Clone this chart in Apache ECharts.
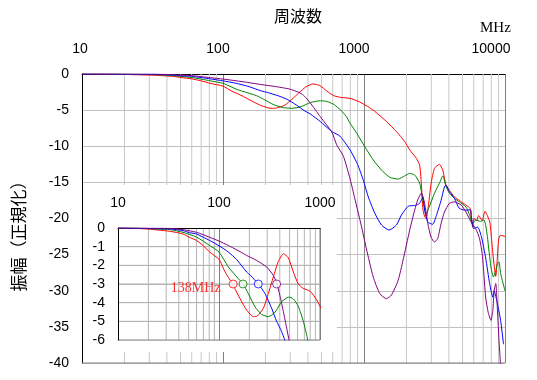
<!DOCTYPE html>
<html><head><meta charset="utf-8">
<script src="https://cdn.jsdelivr.net/npm/echarts@6/dist/echarts.min.js"></script>
<style>html,body{margin:0;padding:0;background:#fff}#c{width:537px;height:380px}</style>
</head><body><div id="c"></div>
<script>
// ---- data ----
const xTickLabels = ['10', '100', '1000', '10000'];
const insetXTickLabels = ['10', '100', '1000'];
const minorMain = [20,30,40,50,60,70,80,90,200,300,400,500,600,700,800,900,2000,3000,4000,5000,6000,7000,8000,9000];
const minorInset = [20,30,40,50,60,70,80,90,200,300,400,500,600,700,800,900];
const insetYGrid = [-1, -2, -3, -4, -5];
const markerFreqs = [138, 173, 245, 372];
const markerLevel = -3;
const seriesColors = ['#ff0000', '#008000', '#0000ff', '#800080'];

const red = [[10,0],[15,-0.02],[20,-0.06],[25,-0.11],[33,-0.18],[44,-0.32],[51,-0.5],[60,-0.67],[70,-0.95],[81,-1.29],[100,-1.68],[115,-2.36],[134,-2.94],[161,-3.77],[188,-4.4],[219,-4.75],[239,-4.72],[275,-4.3],[308,-3.51],[345,-2.62],[387,-1.79],[434,-1.38],[486,-1.6],[545,-2.36],[610,-3.0],[684,-3.24],[796,-3.38],[927,-3.85],[1064,-4.5],[1195,-5.19],[1444,-6.58],[1699,-7.97],[1944,-9.36],[2110,-10.5],[2350,-11.67],[2480,-12.6],[2550,-15.1],[2620,-18.8],[2690,-19.7],[2760,-20.0],[2835,-18.85],[2995,-15.1],[3162,-13.05],[3430,-12.5],[3620,-13.3],[3820,-15.4],[4034,-16.1],[4375,-17.0],[4744,-17.5],[5287,-18.15],[5650,-18.6],[5780,-20.2],[5900,-21.2],[6000,-20.0],[6280,-20.3],[6500,-19.6],[6900,-20.3],[7200,-19.0],[7500,-19.6],[7800,-20.5],[8000,-22.5],[8200,-24.8],[8400,-26.7],[8600,-28.0],[8800,-25.8],[9000,-23.0],[9300,-22.3],[10000,-22.5]];

const green = [[10,0],[15,-0.01],[20,-0.03],[25,-0.06],[33,-0.09],[44,-0.23],[60,-0.49],[81,-0.94],[100,-1.29],[124,-2.09],[150,-2.62],[173,-3.0],[195,-3.51],[227,-4.22],[265,-4.63],[308,-4.75],[358,-4.52],[417,-3.95],[490,-3.7],[545,-3.8],[610,-4.2],[684,-5.0],[750,-5.9],[796,-6.8],[888,-8.2],[1016,-10.1],[1163,-11.9],[1332,-13.3],[1524,-14.3],[1744,-14.54],[1944,-14.1],[2110,-13.75],[2290,-14.0],[2480,-15.1],[2620,-17.5],[2760,-19.3],[2900,-18.4],[3162,-16.5],[3430,-15.1],[3620,-14.1],[3820,-15.6],[4034,-16.5],[4375,-17.2],[4744,-17.7],[5287,-18.4],[5600,-19.5],[5900,-20.7],[6200,-20.2],[6700,-20.4],[7100,-20.2],[7300,-21.0],[7500,-22.5],[7700,-24.5],[7950,-26.7],[8280,-28.1],[8600,-27.2],[8840,-26.25],[9070,-26.0],[9310,-27.6],[10000,-30.0]];

const blue = [[10,0],[15,-0.01],[20,-0.02],[25,-0.04],[33,-0.05],[44,-0.14],[51,-0.25],[60,-0.32],[70,-0.5],[81,-0.67],[100,-0.95],[124,-1.29],[150,-1.7],[188,-2.36],[206,-2.55],[245,-3.0],[285,-3.51],[332,-4.3],[372,-5.0],[417,-5.55],[490,-6.58],[592,-7.97],[675,-8.6],[796,-10.5],[900,-12.5],[989,-14.7],[1072,-17.0],[1195,-19.3],[1332,-20.9],[1507,-21.6],[1699,-20.9],[1846,-19.5],[2060,-18.3],[2290,-18.2],[2480,-17.9],[2620,-17.0],[2690,-18.85],[2835,-20.5],[3070,-20.8],[3260,-19.6],[3520,-17.5],[3720,-15.6],[3820,-15.4],[4034,-16.3],[4375,-17.2],[4744,-18.6],[5287,-18.85],[5700,-18.8],[5780,-19.8],[6000,-21.4],[6400,-21.2],[6800,-22.5],[7300,-25.5],[7780,-29.0],[8200,-30.9],[8370,-30.0],[8840,-31.8],[9310,-34.1],[9760,-37.4]];

const purple = [[10,0],[20,-0.01],[33,-0.02],[44,-0.09],[60,-0.23],[81,-0.5],[100,-0.7],[124,-0.94],[150,-1.17],[188,-1.47],[236,-1.74],[297,-2.09],[345,-2.54],[372,-2.94],[400,-3.6],[434,-4.48],[468,-5.37],[497,-6.08],[590,-8.0],[640,-9.8],[715,-11.4],[796,-14.5],[860,-17.2],[957,-21.0],[1040,-24.2],[1163,-28.1],[1295,-30.4],[1444,-31.1],[1565,-30.6],[1744,-28.6],[1890,-25.8],[2110,-21.6],[2290,-18.8],[2420,-17.3],[2550,-16.5],[2690,-17.9],[2835,-20.7],[2990,-22.6],[3162,-23.25],[3330,-22.8],[3520,-20.7],[3720,-19.1],[4034,-17.9],[4375,-17.7],[4890,-18.15],[5287,-19.1],[5750,-20.5],[6200,-21.4],[6600,-22.8],[6900,-25.0],[7100,-28.0],[7300,-31.0],[7600,-33.0],[7950,-34.1],[8200,-32.7],[8370,-30.0],[8600,-29.0],[8840,-32.7],[9070,-36.9],[9310,-40.5]];

const allSeries = [red, green, blue, purple];

// ---- chart ----
const tickFont = 'Liberation Sans';
const cjkFont = 'Noto Sans CJK JP';
const chart = echarts.init(document.getElementById('c'), null, {renderer: 'canvas'});

function lineSeries(data, color, xi, zl, z) {
  return {
    type: 'line', data: data, xAxisIndex: xi, yAxisIndex: xi,
    showSymbol: false, smooth: 0.2, clip: true, zlevel: zl, z: z,
    lineStyle: {color: color, width: 1}, itemStyle: {color: color},
    silent: true
  };
}
// grid lines drawn as plain two-point line series through the axes' scales
function gridSeries(xi, xExt, yExt, verticals, horizontals, color, zl, z) {
  const out = [];
  verticals.forEach(v => out.push({
    type: 'line', xAxisIndex: xi, yAxisIndex: xi, zlevel: zl, z: z, silent: true,
    showSymbol: false, smooth: false, clip: false,
    lineStyle: {color: color, width: 1}, itemStyle: {color: color},
    data: [[v, yExt[0]], [v, yExt[1]]]
  }));
  horizontals.forEach(h => out.push({
    type: 'line', xAxisIndex: xi, yAxisIndex: xi, zlevel: zl, z: z, silent: true,
    showSymbol: false, smooth: false, clip: false,
    lineStyle: {color: color, width: 1}, itemStyle: {color: color},
    data: [[xExt[0], h], [xExt[1], h]]
  }));
  return out;
}

const shiftPad = [4, 10, 20, 28];
const rich = {};
xTickLabels.forEach((t, i) => {
  rich['s' + i] = {fontSize: 14, fontFamily: tickFont, color: '#000', padding: [0, shiftPad[i], 0, 0]};
});

let series = [];
series = series.concat(gridSeries(0, [10, 10000], [0, -40], minorMain, [], '#c8c8c8', 0, 1));
series = series.concat(gridSeries(0, [10, 10000], [0, -40], [], [-40], '#808080', 0, 1));
allSeries.forEach((d, i) => series.push(lineSeries(d, seriesColors[i], 0, 0, 2)));
series = series.concat(gridSeries(1, [10, 1000], [0, -6], minorInset, insetYGrid, '#b4b4b4', 2, 1));
series = series.concat(gridSeries(1, [10, 1000], [0, -6], [1000], [-6], '#808080', 2, 1));
allSeries.forEach((d, i) => series.push(lineSeries(d, seriesColors[i], 1, 2, 6)));
markerFreqs.forEach((f, i) => {
  series.push({
    type: 'scatter', xAxisIndex: 1, yAxisIndex: 1, zlevel: 2, z: 7, silent: true,
    data: [[f, markerLevel]], symbol: 'circle', symbolSize: 8,
    itemStyle: {color: '#ffffff', borderColor: seriesColors[i], borderWidth: 1},
    label: i === 0 ? {
      show: true, position: 'left', distance: 8, offset: [0, 4],
      formatter: f + 'MHz', color: seriesColors[0], fontSize: 14, fontFamily: 'Liberation Serif'
    } : {show: false}
  });
});

const option = {
  animation: false,
  backgroundColor: '#ffffff',
  grid: [
    {left: 82, top: 74, width: 423, height: 289},
    {left: 118, top: 228, width: 202, height: 112, zlevel: 2}
  ],
  xAxis: [
    {
      type: 'log', logBase: 10, min: 10, max: 10000, gridIndex: 0, position: 'top',
      name: '周波数', nameLocation: 'middle', nameGap: 50,
      nameTextStyle: {fontSize: 16, fontFamily: cjkFont, color: '#000', padding: [0, 0, 0, 9]},
      axisLine: {show: true, lineStyle: {color: '#000', width: 1}},
      axisTick: {show: false},
      axisLabel: {
        margin: 18, fontSize: 14, fontFamily: tickFont, color: '#000', rich: rich,
        formatter: v => { const i = Math.round(Math.log10(v)) - 1; return '{s' + i + '|' + xTickLabels[i] + '}'; }
      },
      splitLine: {show: true, lineStyle: {color: '#808080', width: 1}}
    },
    {
      type: 'log', logBase: 10, min: 10, max: 1000, gridIndex: 1, position: 'top', zlevel: 2, z: 5,
      axisLine: {show: true, lineStyle: {color: '#000', width: 1}},
      axisTick: {show: false},
      axisLabel: {
        margin: 18, fontSize: 14, fontFamily: tickFont, color: '#000',
        formatter: v => insetXTickLabels[Math.round(Math.log10(v)) - 1]
      },
      splitLine: {show: true, lineStyle: {color: '#808080', width: 1}}
    }
  ],
  yAxis: [
    {
      type: 'value', min: -40, max: 0, interval: 5, gridIndex: 0,
      name: '振幅（正規化）', nameLocation: 'middle', nameGap: 55, nameRotate: 90,
      nameTextStyle: {fontSize: 17, fontFamily: cjkFont, color: '#000', padding: [0, 27, 0, 0]},
      axisLine: {show: true, lineStyle: {color: '#000', width: 1}},
      axisTick: {show: false},
      axisLabel: {margin: 13, fontSize: 14, fontFamily: tickFont, color: '#000'},
      splitLine: {show: true, lineStyle: {color: '#c0c0c0', width: 1}}
    },
    {
      type: 'value', min: -6, max: 0, interval: 1, gridIndex: 1, zlevel: 2, z: 5,
      axisLine: {show: true, lineStyle: {color: '#000', width: 1}},
      axisTick: {show: false},
      axisLabel: {margin: 13, fontSize: 14, fontFamily: tickFont, color: '#000'},
      splitLine: {show: true, lineStyle: {color: '#b4b4b4', width: 1}}
    }
  ],
  graphic: [
    {type: 'rect', zlevel: 1, z: 0, silent: true, shape: {x: 83, y: 185, width: 254, height: 167}, style: {fill: '#ffffff'}},
    {type: 'text', z: 50, silent: true, x: 480, y: 21, style: {text: 'MHz', font: '15px "Liberation Serif"', fill: '#000'}}
  ],
  series: series
};
chart.setOption(option);
</script>
</body></html>
